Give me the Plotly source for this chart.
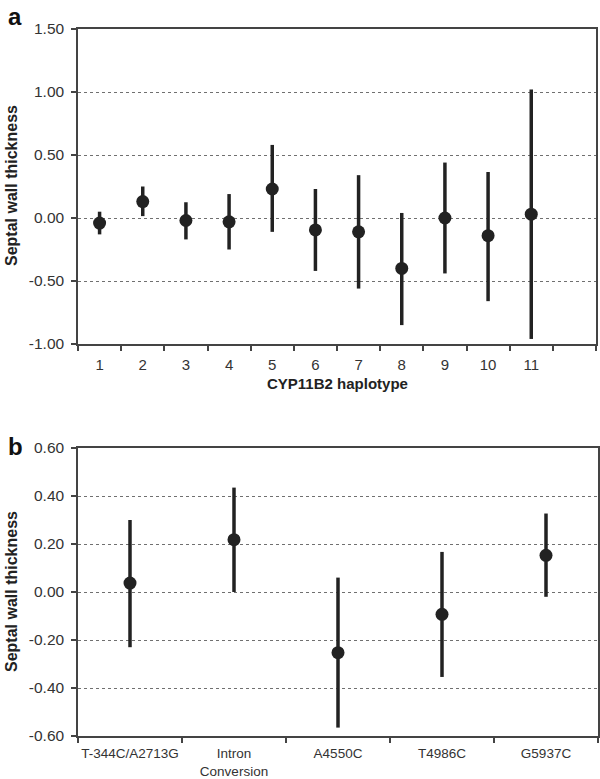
import plotly.graph_objects as go

# Panel a data
haplotypes = [1, 2, 3, 4, 5, 6, 7, 8, 9, 10, 11]
hap_labels = ["1", "2", "3", "4", "5", "6", "7", "8", "9", "10", "11"]
a_mean = [-0.04, 0.13, -0.02, -0.03, 0.23, -0.095, -0.11, -0.40, 0.00, -0.14, 0.03]
a_lower = [-0.13, 0.015, -0.17, -0.25, -0.11, -0.42, -0.56, -0.85, -0.44, -0.66, -0.96]
a_upper = [0.05, 0.25, 0.125, 0.19, 0.58, 0.23, 0.34, 0.04, 0.44, 0.365, 1.02]
a_yticks = [-1.0, -0.5, 0.0, 0.5, 1.0, 1.5]

# Panel b data
b_labels = ["T-344C/A2713G", "Intron<br>Conversion", "A4550C", "T4986C", "G5937C"]
b_pos = [1, 2, 3, 4, 5]
b_mean = [0.037, 0.218, -0.253, -0.093, 0.153]
b_lower = [-0.23, 0.0, -0.565, -0.354, -0.02]
b_upper = [0.30, 0.435, 0.06, 0.167, 0.327]
b_yticks = [-0.6, -0.4, -0.2, 0.0, 0.2, 0.4, 0.6]

FONT = "Arial, Liberation Sans, sans-serif"
INK = "#222222"
TXT = "#333333"
LINE = "#444444"

fig = go.Figure()

fig.add_trace(go.Scatter(
    x=haplotypes, y=a_mean, mode="markers", xaxis="x", yaxis="y",
    marker=dict(size=13, color=INK),
    error_y=dict(type="data", symmetric=False,
                 array=[u - m for u, m in zip(a_upper, a_mean)],
                 arrayminus=[m - l for m, l in zip(a_mean, a_lower)],
                 thickness=3.5, width=0, color=INK),
    showlegend=False))

fig.add_trace(go.Scatter(
    x=b_pos, y=b_mean, mode="markers", xaxis="x2", yaxis="y2",
    marker=dict(size=13, color=INK),
    error_y=dict(type="data", symmetric=False,
                 array=[u - m for u, m in zip(b_upper, b_mean)],
                 arrayminus=[m - l for m, l in zip(b_mean, b_lower)],
                 thickness=3.5, width=0, color=INK),
    showlegend=False))

W, H = 600, 779
def px(p):
    return p / W
def py(p):
    return 1 - p / H

a_bounds = [i + 0.5 for i in range(0, len(haplotypes) + 2)]
b_bounds = [i + 0.5 for i in range(0, len(b_pos) + 1)]

axis_common = dict(showline=True, linecolor=LINE, linewidth=1.5, mirror=True,
                   zeroline=False, automargin=False)
overlay_common = dict(showline=False, ticks="inside", ticklen=5, tickwidth=1.5,
                      tickcolor=LINE, showticklabels=False, showgrid=False,
                      zeroline=False, automargin=False, tickmode="array")
ytick_common = dict(ticks="outside", ticklen=5, tickwidth=1.5, tickcolor=LINE,
                    ticklabelstandoff=4, tickfont=dict(family=FONT, size=15.5, color=TXT),
                    showgrid=True, gridcolor="#707070", griddash="dot", gridwidth=1.2)

fig.update_layout(
    width=W, height=H, margin=dict(l=0, r=0, t=0, b=0),
    paper_bgcolor="white", plot_bgcolor="white",
    font=dict(family=FONT, color=TXT),
    xaxis=dict(domain=[px(78), px(596)], anchor="y", range=[0.5, 12.5],
               tickmode="array", tickvals=haplotypes, ticktext=hap_labels,
               ticks="", ticklabelstandoff=6, showgrid=False,
               tickfont=dict(family=FONT, size=15, color=TXT),
               minor=dict(tickmode="array", tickvals=a_bounds, ticks="outside",
                          ticklen=5, tickwidth=1.5, tickcolor=LINE, showgrid=False),
               **axis_common),
    xaxis3=dict(overlaying="x", anchor="y", range=[0.5, 12.5],
                tickvals=a_bounds, **overlay_common),
    yaxis=dict(domain=[py(344), py(29)], anchor="x", range=[-1.0, 1.5],
               tickmode="array", tickvals=a_yticks,
               ticktext=[f"{v:.2f}" for v in a_yticks],
               **ytick_common, **axis_common),
    xaxis2=dict(domain=[px(78), px(598)], anchor="y2", range=[0.5, 5.5],
                tickmode="array", tickvals=b_pos, ticktext=b_labels,
                ticks="", ticklabelstandoff=4, showgrid=False,
                tickfont=dict(family=FONT, size=13.5, color=TXT),
                minor=dict(tickmode="array", tickvals=b_bounds, ticks="outside",
                           ticklen=5, tickwidth=1.5, tickcolor=LINE, showgrid=False),
                **axis_common),
    xaxis4=dict(overlaying="x2", anchor="y2", range=[0.5, 5.5],
                tickvals=b_bounds, **overlay_common),
    yaxis2=dict(domain=[py(736), py(448)], anchor="x2", range=[-0.6, 0.6],
                tickmode="array", tickvals=b_yticks,
                ticktext=[f"{v:.2f}" for v in b_yticks],
                **ytick_common, **axis_common),
)

title_font = dict(family=FONT, size=16, color="#222222")
fig.add_annotation(text="<b>Septal wall thickness</b>", x=px(11), y=py(186),
                   xref="paper", yref="paper", textangle=-90, showarrow=False,
                   font=title_font, xanchor="center", yanchor="middle")
fig.add_annotation(text="<b>Septal wall thickness</b>", x=px(11), y=py(592),
                   xref="paper", yref="paper", textangle=-90, showarrow=False,
                   font=title_font, xanchor="center", yanchor="middle")
fig.add_annotation(text="<b>CYP11B2 haplotype</b>", x=px((78 + 596) / 2), y=py(383),
                   xref="paper", yref="paper", showarrow=False,
                   font=dict(family=FONT, size=15, color="#222222"),
                   xanchor="center", yanchor="middle")
fig.add_annotation(text="<b>a</b>", x=px(15), y=py(16), xref="paper", yref="paper",
                   showarrow=False, font=dict(family=FONT, size=24, color="#111111"),
                   xanchor="center", yanchor="middle")
fig.add_annotation(text="<b>b</b>", x=px(15), y=py(446), xref="paper", yref="paper",
                   showarrow=False, font=dict(family=FONT, size=24, color="#111111"),
                   xanchor="center", yanchor="middle")

fig.write_html("out.html",
               config={"displayModeBar": False},
               post_script="document.body.style.margin='0px';"
                           "document.body.style.overflow='hidden';")
